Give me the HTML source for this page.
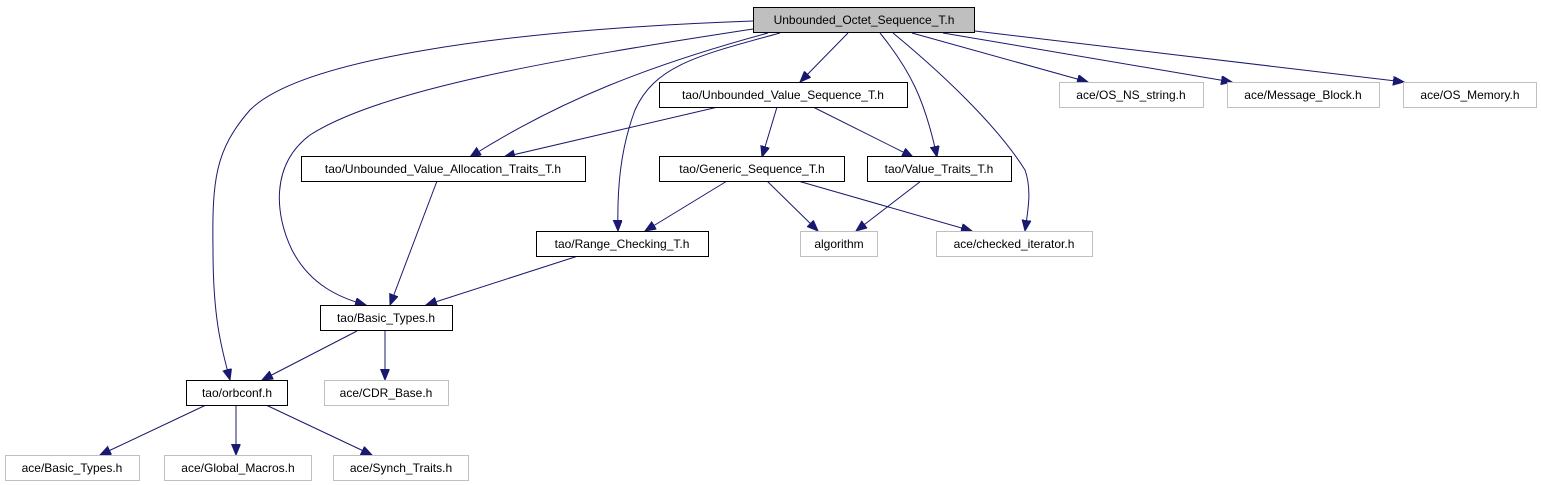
<!DOCTYPE html>
<html><head><meta charset="utf-8"><style>
html,body{margin:0;padding:0;background:#fff;}
svg{display:block;}
text{font-family:"Liberation Sans",sans-serif;font-size:12px;fill:#000;}
</style></head><body>
<svg width="1541" height="485" viewBox="0 0 1541 485" xmlns="http://www.w3.org/2000/svg">
<defs>
<marker id="a" markerUnits="userSpaceOnUse" markerWidth="12" markerHeight="10" refX="11" refY="4.5" orient="auto">
<polygon points="0,0 11,4.5 0,9" fill="#191970" stroke="#191970"/>
</marker>
</defs>
<g fill="none" stroke="#191970" stroke-width="1" marker-end="url(#a)">
<path d="M753,21 C500,30 300,60 250,110 C215,150 212,180 213,250 C213,320 222,350 230,380"/>
<path d="M753,29 C550,60 380,90 310,135 C270,165 275,215 292,250 C310,285 340,298 366,305"/>
<path d="M768,33 C650,65 560,100 470,157"/>
<path d="M780,33 C700,55 655,65 635,110 C620,150 617,190 618,231"/>
<path d="M848,33 L800,82"/>
<path d="M880,33 C910,70 925,100 937,157"/>
<path d="M893,33 C950,80 1000,130 1025,170 C1032,190 1028,210 1025,231"/>
<path d="M912,33 L1088,82"/>
<path d="M943,33 L1232,82"/>
<path d="M975,31 L1404,82"/>
<path d="M718,107 L504,157"/>
<path d="M777,107 L762,157"/>
<path d="M813,107 L913,157"/>
<path d="M437,181 L390,305"/>
<path d="M727,181 L645,231"/>
<path d="M767,181 L818,231"/>
<path d="M798,181 L972,231"/>
<path d="M921,181 L856,231"/>
<path d="M578,256 L426,305"/>
<path d="M357,331 L262,380"/>
<path d="M385,331 L385,380"/>
<path d="M206,405 L100,455"/>
<path d="M236,405 L236,455"/>
<path d="M266,405 L372,455"/>
</g>
<g stroke-width="1">
<rect x="753.5" y="7.5" width="221" height="25" fill="#bfbfbf" stroke="#000"/>
<rect x="659.5" y="82.5" width="248" height="25" fill="#fff" stroke="#000"/>
<rect x="1059.5" y="82.5" width="144" height="25" fill="#fff" stroke="#bfbfbf"/>
<rect x="1227.5" y="82.5" width="152" height="25" fill="#fff" stroke="#bfbfbf"/>
<rect x="1403.5" y="82.5" width="133" height="25" fill="#fff" stroke="#bfbfbf"/>
<rect x="301.5" y="156.5" width="284" height="25" fill="#fff" stroke="#000"/>
<rect x="659.5" y="156.5" width="185" height="25" fill="#fff" stroke="#000"/>
<rect x="867.5" y="156.5" width="144" height="25" fill="#fff" stroke="#000"/>
<rect x="536.5" y="231.5" width="172" height="25" fill="#fff" stroke="#000"/>
<rect x="800.5" y="231.5" width="77" height="25" fill="#fff" stroke="#bfbfbf"/>
<rect x="936.5" y="231.5" width="156" height="25" fill="#fff" stroke="#bfbfbf"/>
<rect x="320.5" y="305.5" width="132" height="25" fill="#fff" stroke="#000"/>
<rect x="186.5" y="380.5" width="101" height="25" fill="#fff" stroke="#000"/>
<rect x="324.5" y="380.5" width="124" height="25" fill="#fff" stroke="#bfbfbf"/>
<rect x="5.5" y="455.5" width="134" height="25" fill="#fff" stroke="#bfbfbf"/>
<rect x="164.5" y="455.5" width="147" height="25" fill="#fff" stroke="#bfbfbf"/>
<rect x="333.5" y="455.5" width="135" height="25" fill="#fff" stroke="#bfbfbf"/>
</g>
<g text-anchor="middle">
<text x="864" y="24">Unbounded_Octet_Sequence_T.h</text>
<text x="783" y="99">tao/Unbounded_Value_Sequence_T.h</text>
<text x="1131" y="99">ace/OS_NS_string.h</text>
<text x="1303" y="99">ace/Message_Block.h</text>
<text x="1470" y="99">ace/OS_Memory.h</text>
<text x="443" y="173">tao/Unbounded_Value_Allocation_Traits_T.h</text>
<text x="752" y="173">tao/Generic_Sequence_T.h</text>
<text x="939" y="173">tao/Value_Traits_T.h</text>
<text x="622" y="248">tao/Range_Checking_T.h</text>
<text x="839" y="248">algorithm</text>
<text x="1014" y="248">ace/checked_iterator.h</text>
<text x="386" y="322">tao/Basic_Types.h</text>
<text x="237" y="397">tao/orbconf.h</text>
<text x="386" y="397">ace/CDR_Base.h</text>
<text x="72" y="472">ace/Basic_Types.h</text>
<text x="238" y="472">ace/Global_Macros.h</text>
<text x="401" y="472">ace/Synch_Traits.h</text>
</g>
</svg>
</body></html>
